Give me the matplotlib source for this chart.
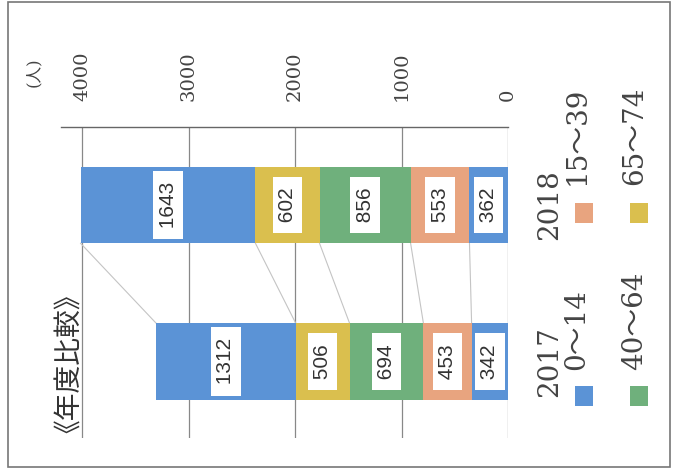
import numpy as np
import matplotlib.pyplot as plt
from matplotlib.patches import Rectangle

years = ['2018', '2017']
age_groups = ['0〜14', '15〜39', '40〜64', '65〜74', '75〜']
counts_2018 = [362, 553, 856, 602, 1643]
counts_2017 = [342, 453, 694, 506, 1312]
value_ticks = [0, 1000, 2000, 3000, 4000]
unit_label = '(人)'
title = '《年度比較》'

colors = ['#5B93D6', '#E8A47F', '#6FB07C', '#DABF4E', '#5B93D6']
SERIF = ['DejaVu Serif', 'Noto Sans CJK JP']

W, H = 673, 475
fig = plt.figure(figsize=(W / 100, H / 100), dpi=100)


def fx(x):
    return x / W


def fy(y):
    return 1 - y / H


# chart is drawn turned on its side: values run right -> left
ax = fig.add_axes([fx(61), fy(438), (508 - 61) / W, (438 - 127) / H])

values = np.array([counts_2018, counts_2017])
ypos = np.arange(len(years))
bar_h = 0.49
left = np.zeros(len(years))
for i in range(len(age_groups)):
    ax.barh(ypos, values[:, i], left=left, height=bar_h, color=colors[i], zorder=3)
    for y, l, v in zip(ypos, left, values[:, i]):
        ax.text(l + v / 2, y, ' %d ' % v, rotation=90, ha='center', va='center',
                fontsize=15, family='Liberation Sans', color='#333333', zorder=5,
                bbox=dict(boxstyle='square,pad=0.25', fc='white', ec='none'))
    left += values[:, i]

# series lines between the two stacks
cum = np.cumsum(values, axis=1)
for k in range(cum.shape[1]):
    ax.plot([cum[0, k], cum[1, k]], [ypos[0] + bar_h / 2, ypos[1] - bar_h / 2],
            color='#C4C4C4', lw=0.8, zorder=2)

ax.set_xlim(4200, 0)
ax.set_ylim(1.489, -0.498)

ax.xaxis.tick_top()
ax.set_xticks(value_ticks)
ax.set_xticklabels([str(t) for t in value_ticks], rotation=90, fontsize=14,
                   family='DejaVu Serif', color='#444444')
ax.tick_params(axis='x', length=0, pad=19)

ax.yaxis.tick_right()
ax.set_yticks(ypos)
ax.set_yticklabels(years, rotation=90, fontsize=20, family='DejaVu Serif',
                   color='#444444', va='center')
ax.tick_params(axis='y', length=0, pad=20)

ax.grid(axis='x', color='#888888', lw=0.9)
ax.set_axisbelow(True)
for s in ['left', 'right', 'bottom']:
    ax.spines[s].set_visible(False)
ax.spines['top'].set_color('#666666')
ax.spines['top'].set_linewidth(1.0)

fig.text(fx(33.5), fy(87), unit_label, rotation=90, ha='center', va='bottom',
         fontsize=12, family=SERIF, color='#444444')
fig.text(fx(56), fy(433), title, rotation=90, ha='center', va='bottom',
         fontsize=20, family=['Noto Sans CJK JP'], color='#333333')

# legend, laid out by hand because it is rotated
legend_pos = [(584, 396, 577, 370), (584, 213, 577, 185),
              (639, 396, 635, 370), (639, 213, 635, 185)]
for lab, col, (mx, my, tx, ty) in zip(age_groups[:4], colors[:4], legend_pos):
    fig.add_artist(Rectangle((fx(mx - 9), fy(my + 10)), 18 / W, 20 / H,
                             transform=fig.transFigure, fc=col, ec='none'))
    fig.text(fx(tx), fy(ty), lab, rotation=90, ha='center', va='bottom',
             fontsize=20, family=SERIF, color='#444444')

fig.add_artist(Rectangle((fx(8), fy(467)), (670 - 8) / W, (467 - 2) / H,
                         transform=fig.transFigure, fill=False, ec='#777777', lw=1.2))

fig.savefig('out.png', dpi=100)
